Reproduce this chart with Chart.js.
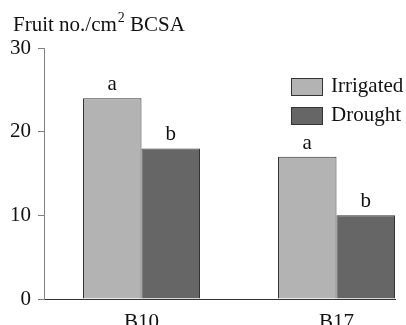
<!DOCTYPE html>
<html lang="en">
<head>
    <meta charset="UTF-8" />
    <title>Fruit number per BCSA</title>
    <script src="https://cdn.jsdelivr.net/npm/chart.js"></script>
    <style>
        html, body { margin: 0; padding: 0; background: #fff; overflow: hidden; }
        .chart-box { position: relative; width: 406px; height: 325px; }
    </style>
</head>
<body>
    <div class="chart-box">
        <canvas id="fruitChart"></canvas>
    </div>

    <script>
        // data
        const categories = ["B10", "B17"];
        const irrigated = [24, 17];
        const drought = [18, 10];
        const irrigatedLetters = ["a", "a"];
        const droughtLetters = ["b", "b"];
        const yTicks = [0, 10, 20, 30];

        const serif = "'Liberation Serif', 'Times New Roman', serif";

        // y axis title with superscript, drawn at the top left
        const titlePlugin = {
            id: "yTitle",
            afterDraw(chart) {
                const ctx = chart.ctx;
                ctx.save();
                ctx.fillStyle = "#111";
                ctx.textBaseline = "alphabetic";
                ctx.textAlign = "left";
                let x = 13;
                const y = 31;
                ctx.font = "21px " + serif;
                ctx.fillText("Fruit no./cm", x, y);
                x += ctx.measureText("Fruit no./cm").width + 1;
                ctx.font = "14px " + serif;
                ctx.fillText("2", x, y - 9);
                x += ctx.measureText("2").width;
                ctx.font = "21px " + serif;
                ctx.fillText(" BCSA", x, y);
                ctx.restore();
            }
        };

        // significance letters above each bar
        const letterPlugin = {
            id: "sigLetters",
            afterDatasetsDraw(chart) {
                const ctx = chart.ctx;
                const sets = [irrigatedLetters, droughtLetters];
                ctx.save();
                ctx.font = "21px " + serif;
                ctx.fillStyle = "#111";
                ctx.textAlign = "center";
                ctx.textBaseline = "alphabetic";
                sets.forEach((letters, di) => {
                    chart.getDatasetMeta(di).data.forEach((bar, i) => {
                        ctx.fillText(letters[i], bar.x, bar.y - 8);
                    });
                });
                ctx.restore();
            }
        };

        // legend boxes on the right
        const legendPlugin = {
            id: "boxLegend",
            afterDraw(chart) {
                const ctx = chart.ctx;
                ctx.save();
                ctx.font = "21px " + serif;
                ctx.textBaseline = "middle";
                ctx.textAlign = "left";
                chart.data.datasets.forEach((ds, i) => {
                    const top = 78 + i * 29;
                    ctx.fillStyle = ds.backgroundColor;
                    ctx.fillRect(291.5, top + 0.5, 31, 17);
                    ctx.strokeStyle = "#333";
                    ctx.lineWidth = 1;
                    ctx.strokeRect(291.5, top + 0.5, 31, 17);
                    ctx.fillStyle = "#111";
                    ctx.fillText(ds.label, 331, top + 8);
                });
                ctx.restore();
            }
        };

        const ctx = document.getElementById("fruitChart").getContext("2d");

        const fruitChart = new Chart(ctx, {
            type: "bar",
            data: {
                datasets: [
                    {
                        label: "Irrigated",
                        data: irrigated.map((v, i) => ({ x: i, y: v })),
                        backgroundColor: "#b3b3b3",
                        borderColor: "#333333",
                        borderWidth: 1,
                        categoryPercentage: 0.6,
                        barPercentage: 1.0,
                    },
                    {
                        label: "Drought",
                        data: drought.map((v, i) => ({ x: i, y: v })),
                        backgroundColor: "#666666",
                        borderColor: "#333333",
                        borderWidth: 1,
                        categoryPercentage: 0.6,
                        barPercentage: 1.0,
                    },
                ],
            },
            options: {
                responsive: true,
                maintainAspectRatio: false,
                animation: false,
                layout: { padding: { top: 48, right: 11, left: 0, bottom: 0 } },
                plugins: {
                    legend: { display: false },
                    tooltip: { enabled: false },
                },
                scales: {
                    x: {
                        type: "linear",
                        min: -0.5,
                        max: 1.3,
                        offset: false,
                        afterBuildTicks: (scale) => {
                            scale.ticks = categories.map((c, i) => ({ value: i }));
                        },
                        afterFit: (scale) => { scale.height = 26; },
                        grid: { display: false, drawTicks: false, offset: false },
                        border: { display: true, color: "#333333", width: 1 },
                        ticks: {
                            callback: (v) => categories[v],
                            color: "#111",
                            font: { family: serif, size: 21 },
                            padding: 11,
                            maxRotation: 0,
                            autoSkip: false,
                        },
                    },
                    y: {
                        min: 0,
                        max: 30,
                        afterBuildTicks: (scale) => {
                            scale.ticks = yTicks.map((v) => ({ value: v }));
                        },
                        afterFit: (scale) => { scale.width = 44; },
                        grid: {
                            drawOnChartArea: false,
                            drawTicks: true,
                            tickLength: 6,
                            color: "#808080",
                        },
                        border: { display: true, color: "#808080", width: 1 },
                        ticks: {
                            color: "#111",
                            font: { family: serif, size: 21 },
                            padding: 7,
                        },
                    },
                },
            },
            plugins: [titlePlugin, letterPlugin, legendPlugin],
        });
    </script>
</body>
</html>
